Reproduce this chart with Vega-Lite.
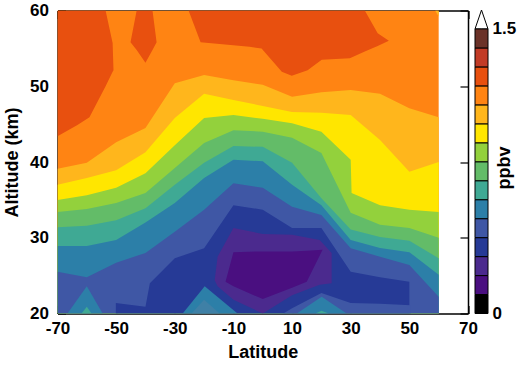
{
"$schema":"https://vega.github.io/schema/vega-lite/v6.json",
"autosize":{"type":"none"},
"padding":{"left":57.5,"top":10.5,"right":52,"bottom":53},
"width":410.5,"height":303,
"background":"white",
"config":{"view":{"stroke":null},"font":"Liberation Sans","axis":{"labelFont":"Liberation Sans","titleFont":"Liberation Sans","labelFontWeight":"bold","titleFontWeight":"bold","labelFontSize":17,"titleFontSize":18,"labelColor":"black","titleColor":"black","tickColor":"black","domainColor":"black","grid":false,"zindex":1,"domainWidth":1.5,"tickWidth":1.2}},
"datasets":{"contours":[
{"region":"r0","band":"1.1","lat":-70,"lo":20,"hi":60},{"region":"r0","band":"1.1","lat":60,"lo":20,"hi":60},
{"region":"i1","band":"1.2","lat":-70,"lo":43.4,"hi":60},{"region":"i1","band":"1.2","lat":-63.2,"lo":44.9,"hi":60},{"region":"i1","band":"1.2","lat":-59.1,"lo":45.9,"hi":60},{"region":"i1","band":"1.2","lat":-53.6,"lo":50,"hi":60},{"region":"i1","band":"1.2","lat":-51.2,"lo":51.9,"hi":55.7},{"region":"i1","band":"1.2","lat":-50.9,"lo":52.1,"hi":52.1},
{"region":"i2","band":"1.2","lat":-45.1,"lo":55.8,"hi":55.8},{"region":"i2","band":"1.2","lat":-43,"lo":54.8,"hi":60},{"region":"i2","band":"1.2","lat":-40,"lo":53.1,"hi":60},{"region":"i2","band":"1.2","lat":-37.6,"lo":54.8,"hi":60},{"region":"i2","band":"1.2","lat":-36.2,"lo":55.8,"hi":55.8},
{"region":"i3","band":"1.2","lat":-25.3,"lo":60,"hi":60},{"region":"i3","band":"1.2","lat":-21.2,"lo":55.8,"hi":60},{"region":"i3","band":"1.2","lat":-4.5,"lo":55.2,"hi":60},{"region":"i3","band":"1.2","lat":-0.4,"lo":55,"hi":60},{"region":"i3","band":"1.2","lat":6.5,"lo":51.9,"hi":60},{"region":"i3","band":"1.2","lat":9.9,"lo":51.4,"hi":60},{"region":"i3","band":"1.2","lat":15.3,"lo":52.1,"hi":60},{"region":"i3","band":"1.2","lat":20.1,"lo":53.5,"hi":60},{"region":"i3","band":"1.2","lat":29.7,"lo":53.7,"hi":60},{"region":"i3","band":"1.2","lat":34.8,"lo":54.6,"hi":60},{"region":"i3","band":"1.2","lat":39.2,"lo":55.3,"hi":57},{"region":"i3","band":"1.2","lat":43,"lo":56,"hi":56},
{"region":"c0","band":"1.0","lat":58.8,"lo":60,"hi":60},{"region":"c0","band":"1.0","lat":60,"lo":59.2,"hi":60},
{"region":"b1","band":"1.0","lat":-70,"lo":20,"hi":39.1},{"region":"b1","band":"1.0","lat":-60,"lo":20,"hi":39.9},{"region":"b1","band":"1.0","lat":-50,"lo":20,"hi":42.6},{"region":"b1","band":"1.0","lat":-40,"lo":20,"hi":44.5},{"region":"b1","band":"1.0","lat":-30,"lo":20,"hi":50.4},{"region":"b1","band":"1.0","lat":-20,"lo":20,"hi":51.5},{"region":"b1","band":"1.0","lat":-10,"lo":20,"hi":50.8},{"region":"b1","band":"1.0","lat":0,"lo":20,"hi":50.2},{"region":"b1","band":"1.0","lat":10,"lo":20,"hi":48.6},{"region":"b1","band":"1.0","lat":20,"lo":20,"hi":49.2},{"region":"b1","band":"1.0","lat":30,"lo":20,"hi":49.5},{"region":"b1","band":"1.0","lat":40,"lo":20,"hi":49},{"region":"b1","band":"1.0","lat":50,"lo":20,"hi":47.1},{"region":"b1","band":"1.0","lat":60,"lo":20,"hi":45.9},
{"region":"b2","band":"0.9","lat":-70,"lo":20,"hi":37},{"region":"b2","band":"0.9","lat":-60,"lo":20,"hi":37.9},{"region":"b2","band":"0.9","lat":-50,"lo":20,"hi":38.9},{"region":"b2","band":"0.9","lat":-40,"lo":20,"hi":41.3},{"region":"b2","band":"0.9","lat":-30,"lo":20,"hi":45.8},{"region":"b2","band":"0.9","lat":-20,"lo":20,"hi":49},{"region":"b2","band":"0.9","lat":-10,"lo":20,"hi":48.2},{"region":"b2","band":"0.9","lat":0,"lo":20,"hi":47.4},{"region":"b2","band":"0.9","lat":10,"lo":20,"hi":46.6},{"region":"b2","band":"0.9","lat":20,"lo":20,"hi":46.5},{"region":"b2","band":"0.9","lat":30,"lo":20,"hi":46.2},{"region":"b2","band":"0.9","lat":40,"lo":20,"hi":42.9},{"region":"b2","band":"0.9","lat":50,"lo":20,"hi":38.7},{"region":"b2","band":"0.9","lat":60,"lo":20,"hi":40},
{"region":"b3","band":"0.8","lat":-70,"lo":20,"hi":35},{"region":"b3","band":"0.8","lat":-60,"lo":20,"hi":35.6},{"region":"b3","band":"0.8","lat":-50,"lo":20,"hi":36.6},{"region":"b3","band":"0.8","lat":-40,"lo":20,"hi":38.5},{"region":"b3","band":"0.8","lat":-30,"lo":20,"hi":42.2},{"region":"b3","band":"0.8","lat":-20,"lo":20,"hi":45.8},{"region":"b3","band":"0.8","lat":-10,"lo":20,"hi":46.2},{"region":"b3","band":"0.8","lat":0,"lo":20,"hi":45.7},{"region":"b3","band":"0.8","lat":10,"lo":20,"hi":45.1},{"region":"b3","band":"0.8","lat":20,"lo":20,"hi":44},{"region":"b3","band":"0.8","lat":30,"lo":20,"hi":40.3},{"region":"b3","band":"0.8","lat":30.3,"lo":20,"hi":35.9},{"region":"b3","band":"0.8","lat":40,"lo":20,"hi":34.3},{"region":"b3","band":"0.8","lat":50,"lo":20,"hi":33.7},{"region":"b3","band":"0.8","lat":60,"lo":20,"hi":33.4},
{"region":"b4","band":"0.7","lat":-70,"lo":20,"hi":33.4},{"region":"b4","band":"0.7","lat":-60,"lo":20,"hi":33.8},{"region":"b4","band":"0.7","lat":-50,"lo":20,"hi":34.6},{"region":"b4","band":"0.7","lat":-40,"lo":20,"hi":35.9},{"region":"b4","band":"0.7","lat":-30,"lo":20,"hi":39.2},{"region":"b4","band":"0.7","lat":-20,"lo":20,"hi":42.5},{"region":"b4","band":"0.7","lat":-10,"lo":20,"hi":44.2},{"region":"b4","band":"0.7","lat":0,"lo":20,"hi":44},{"region":"b4","band":"0.7","lat":10,"lo":20,"hi":43.2},{"region":"b4","band":"0.7","lat":20,"lo":20,"hi":41.2},{"region":"b4","band":"0.7","lat":30,"lo":20,"hi":33.3},{"region":"b4","band":"0.7","lat":40,"lo":20,"hi":31.7},{"region":"b4","band":"0.7","lat":50,"lo":20,"hi":31.3},{"region":"b4","band":"0.7","lat":60,"lo":20,"hi":30},
{"region":"b5","band":"0.6","lat":-70,"lo":20,"hi":31.4},{"region":"b5","band":"0.6","lat":-60,"lo":20,"hi":31.6},{"region":"b5","band":"0.6","lat":-50,"lo":20,"hi":32.3},{"region":"b5","band":"0.6","lat":-40,"lo":20,"hi":33.9},{"region":"b5","band":"0.6","lat":-30,"lo":20,"hi":37},{"region":"b5","band":"0.6","lat":-20,"lo":20,"hi":39.9},{"region":"b5","band":"0.6","lat":-10,"lo":20,"hi":42.1},{"region":"b5","band":"0.6","lat":0,"lo":20,"hi":42},{"region":"b5","band":"0.6","lat":10,"lo":20,"hi":39.9},{"region":"b5","band":"0.6","lat":20,"lo":20,"hi":35.2},{"region":"b5","band":"0.6","lat":30,"lo":20,"hi":31.1},{"region":"b5","band":"0.6","lat":40,"lo":20,"hi":30.1},{"region":"b5","band":"0.6","lat":50,"lo":20,"hi":29.6},{"region":"b5","band":"0.6","lat":60,"lo":20,"hi":27.3},
{"region":"b6","band":"0.5","lat":-70,"lo":20,"hi":28.9},{"region":"b6","band":"0.5","lat":-60,"lo":20,"hi":28.9},{"region":"b6","band":"0.5","lat":-50,"lo":20,"hi":29.7},{"region":"b6","band":"0.5","lat":-40,"lo":20,"hi":32},{"region":"b6","band":"0.5","lat":-30,"lo":20,"hi":34.6},{"region":"b6","band":"0.5","lat":-20,"lo":20,"hi":37.9},{"region":"b6","band":"0.5","lat":-10,"lo":20,"hi":40.3},{"region":"b6","band":"0.5","lat":0,"lo":20,"hi":40.1},{"region":"b6","band":"0.5","lat":10,"lo":20,"hi":37},{"region":"b6","band":"0.5","lat":20,"lo":20,"hi":34.3},{"region":"b6","band":"0.5","lat":30,"lo":20,"hi":29.7},{"region":"b6","band":"0.5","lat":40,"lo":20,"hi":28.65},{"region":"b6","band":"0.5","lat":50,"lo":20,"hi":28.1},{"region":"b6","band":"0.5","lat":60,"lo":20,"hi":25.1},
{"region":"b7","band":"0.4","lat":-70,"lo":20,"hi":25.5},{"region":"b7","band":"0.4","lat":-60,"lo":20,"hi":24.8},{"region":"b7","band":"0.4","lat":-50,"lo":20,"hi":26.7},{"region":"b7","band":"0.4","lat":-40,"lo":20,"hi":28},{"region":"b7","band":"0.4","lat":-30,"lo":20,"hi":30.8},{"region":"b7","band":"0.4","lat":-20,"lo":20,"hi":33.7},{"region":"b7","band":"0.4","lat":-10,"lo":20,"hi":37.2},{"region":"b7","band":"0.4","lat":0,"lo":20,"hi":36.6},{"region":"b7","band":"0.4","lat":10,"lo":20,"hi":34.1},{"region":"b7","band":"0.4","lat":20,"lo":20,"hi":33},{"region":"b7","band":"0.4","lat":30,"lo":20,"hi":28.6},{"region":"b7","band":"0.4","lat":40,"lo":20,"hi":27.5},{"region":"b7","band":"0.4","lat":50,"lo":20,"hi":26.4},{"region":"b7","band":"0.4","lat":60,"lo":20,"hi":22.2},
{"region":"b8","band":"0.3","lat":-50.1,"lo":20,"hi":21.4},{"region":"b8","band":"0.3","lat":-40,"lo":20,"hi":20.9},{"region":"b8","band":"0.3","lat":-38.5,"lo":20,"hi":24},{"region":"b8","band":"0.3","lat":-30,"lo":20,"hi":27.3},{"region":"b8","band":"0.3","lat":-20,"lo":20,"hi":28.6},{"region":"b8","band":"0.3","lat":-10,"lo":20,"hi":34.3},{"region":"b8","band":"0.3","lat":0,"lo":20,"hi":33.7},{"region":"b8","band":"0.3","lat":10,"lo":20,"hi":31.3},{"region":"b8","band":"0.3","lat":20,"lo":20,"hi":31.3},{"region":"b8","band":"0.3","lat":30,"lo":20,"hi":25.5},{"region":"b8","band":"0.3","lat":40,"lo":20,"hi":24.8},{"region":"b8","band":"0.3","lat":50,"lo":20,"hi":24.2},
{"region":"p1","band":"0.2","lat":-16.4,"lo":24.4,"hi":24.4},{"region":"p1","band":"0.2","lat":-15.4,"lo":23.6,"hi":27.5},{"region":"p1","band":"0.2","lat":-10,"lo":21.8,"hi":31.3},{"region":"p1","band":"0.2","lat":0,"lo":20,"hi":30.5},{"region":"p1","band":"0.2","lat":10,"lo":22.4,"hi":30.4},{"region":"p1","band":"0.2","lat":19.4,"lo":23.8,"hi":29.7},{"region":"p1","band":"0.2","lat":23.5,"lo":24,"hi":28},
{"region":"p2","band":"0.1","lat":-12.7,"lo":24.2,"hi":24.2},{"region":"p2","band":"0.1","lat":-10,"lo":23.6,"hi":28.1},{"region":"p2","band":"0.1","lat":0,"lo":21.9,"hi":28.2},{"region":"p2","band":"0.1","lat":10,"lo":23.4,"hi":28.2},{"region":"p2","band":"0.1","lat":15,"lo":24.2,"hi":28.3},{"region":"p2","band":"0.1","lat":20.4,"lo":28.4,"hi":28.4},
{"region":"s1","band":"0.4","lat":7,"lo":20,"hi":20},{"region":"s1","band":"0.4","lat":10,"lo":20,"hi":20.7},{"region":"s1","band":"0.4","lat":20,"lo":20,"hi":22.7},{"region":"s1","band":"0.4","lat":30,"lo":20,"hi":21.4},{"region":"s1","band":"0.4","lat":40,"lo":20,"hi":21.3},{"region":"s1","band":"0.4","lat":50.5,"lo":20,"hi":21.1},
{"region":"u1","band":"0.5","lat":-66.6,"lo":20,"hi":20},{"region":"u1","band":"0.5","lat":-60,"lo":20,"hi":23.6},{"region":"u1","band":"0.5","lat":-54.6,"lo":20,"hi":20},
{"region":"u2","band":"0.6","lat":-61.8,"lo":20,"hi":20},{"region":"u2","band":"0.6","lat":-60,"lo":20,"hi":20.9},{"region":"u2","band":"0.6","lat":-58.4,"lo":20,"hi":20},
{"region":"u3","band":"0.5","lat":-27.3,"lo":20,"hi":20},{"region":"u3","band":"0.5","lat":-19.8,"lo":20,"hi":23.6},{"region":"u3","band":"0.5","lat":-8.6,"lo":20,"hi":20},
{"region":"u4","band":"0.55","lat":-24.3,"lo":20,"hi":20},{"region":"u4","band":"0.55","lat":-20,"lo":20,"hi":21.8},{"region":"u4","band":"0.55","lat":-14.7,"lo":20,"hi":20},
{"region":"u5","band":"0.5","lat":11.6,"lo":20,"hi":20},{"region":"u5","band":"0.5","lat":20.1,"lo":20,"hi":22.2},{"region":"u5","band":"0.5","lat":28.6,"lo":20,"hi":20},
{"region":"u6","band":"0.6","lat":18,"lo":20,"hi":20},{"region":"u6","band":"0.6","lat":20,"lo":20,"hi":20.35},{"region":"u6","band":"0.6","lat":22.5,"lo":20,"hi":20}
],
"bar":[
{"band":"0.0","v0":0,"v1":0.1,"a":0,"b":1},{"band":"0.1","v0":0.1,"v1":0.2,"a":0,"b":1},{"band":"0.2","v0":0.2,"v1":0.3,"a":0,"b":1},{"band":"0.3","v0":0.3,"v1":0.4,"a":0,"b":1},{"band":"0.4","v0":0.4,"v1":0.5,"a":0,"b":1},{"band":"0.5","v0":0.5,"v1":0.6,"a":0,"b":1},{"band":"0.6","v0":0.6,"v1":0.7,"a":0,"b":1},{"band":"0.7","v0":0.7,"v1":0.8,"a":0,"b":1},{"band":"0.8","v0":0.8,"v1":0.9,"a":0,"b":1},{"band":"0.9","v0":0.9,"v1":1.0,"a":0,"b":1},{"band":"1.0","v0":1.0,"v1":1.1,"a":0,"b":1},{"band":"1.1","v0":1.1,"v1":1.2,"a":0,"b":1},{"band":"1.2","v0":1.2,"v1":1.3,"a":0,"b":1},{"band":"1.3","v0":1.3,"v1":1.4,"a":0,"b":1},{"band":"1.4","v0":1.4,"v1":1.5,"a":0,"b":1}
],
"over":[{"a":0,"lo":1.5,"hi":1.5},{"a":0.5,"lo":1.5,"hi":1.6},{"a":1,"lo":1.5,"hi":1.5}]
},
"resolve":{"scale":{"x":"independent","y":"independent"},"axis":{"x":"independent","y":"independent"}},
"layer":[
{"data":{"name":"contours"},"mark":{"type":"area","clip":true,"interpolate":"linear"},
"encoding":{
"x":{"field":"lat","type":"quantitative","scale":{"domain":[-70,70],"nice":false},"axis":{"orient":"bottom","values":[-70,-50,-30,-10,10,30,50,70],"tickSize":-8,"labelPadding":15,"title":"Latitude","titlePadding":7,"labelFlush":false,"labelOverlap":false,"labelExpr":"'' + datum.value"}},
"y":{"field":"lo","type":"quantitative","scale":{"domain":[20,60],"nice":false,"zero":false},"axis":{"orient":"left","values":[20,30,40,50,60],"tickSize":-8,"labelPadding":17,"title":"Altitude (km)","titlePadding":8,"labelFlush":false,"labelOverlap":false}},
"y2":{"field":"hi"},
"detail":{"field":"region"},
"color":{"field":"band","type":"nominal","legend":null,"scale":{"domain":["0.0","0.1","0.2","0.3","0.4","0.5","0.55","0.6","0.7","0.8","0.9","1.0","1.1","1.2","1.3","1.4"],"range":["#000000","#4a0f80","#4b2a8e","#263a96","#3f57a5","#2c7fa8","#3f80a6","#3fa994","#63bc68","#93d13c","#ffe600","#ffb61c","#ff8413","#e8500f","#c23b26","#6b3228"]}}
}},
{"data":{"name":"contours"},"mark":{"type":"point","opacity":0},
"encoding":{
"x":{"field":"lat","type":"quantitative","scale":{"domain":[-70,70],"nice":false},"axis":{"orient":"top","values":[-70,-50,-30,-10,10,30,50,70],"tickSize":-8,"labels":false,"title":null}},
"y":{"field":"lo","type":"quantitative","scale":{"domain":[20,60],"nice":false,"zero":false},"axis":{"orient":"right","values":[20,30,40,50,60],"tickSize":-8,"labels":false,"title":null}}
}},
{"data":{"name":"over"},"mark":{"type":"area","fill":"white","stroke":"black","strokeWidth":1,"clip":false},
"encoding":{
"x":{"field":"a","type":"quantitative","scale":{"domain":[0,1],"range":[417.5,430.5],"nice":false,"zero":false},"axis":null},
"y":{"field":"lo","type":"quantitative","scale":{"domain":[0,1.6],"range":[303,-0.5],"nice":false},"axis":null},
"y2":{"field":"hi"}
}},
{"data":{"name":"bar"},"mark":{"type":"rect","stroke":"black","strokeWidth":1,"clip":false},
"encoding":{
"x":{"field":"a","type":"quantitative","scale":{"domain":[0,1],"range":[417.5,430.5],"nice":false,"zero":false},"axis":null},
"x2":{"field":"b"},
"y":{"field":"v0","type":"quantitative","scale":{"domain":[0,1.6],"range":[303,-0.5],"nice":false},"axis":{"orient":"right","offset":20,"values":[0,1.5],"tickSize":0,"domain":false,"labelPadding":4,"title":"ppbv","titleAngle":270,"titlePadding":-2,"titleY":157,"labelOverlap":false,"labelFlush":false,"format":".1~f"}},
"y2":{"field":"v1"},
"color":{"field":"band","type":"nominal","legend":null}
}}
]
}
